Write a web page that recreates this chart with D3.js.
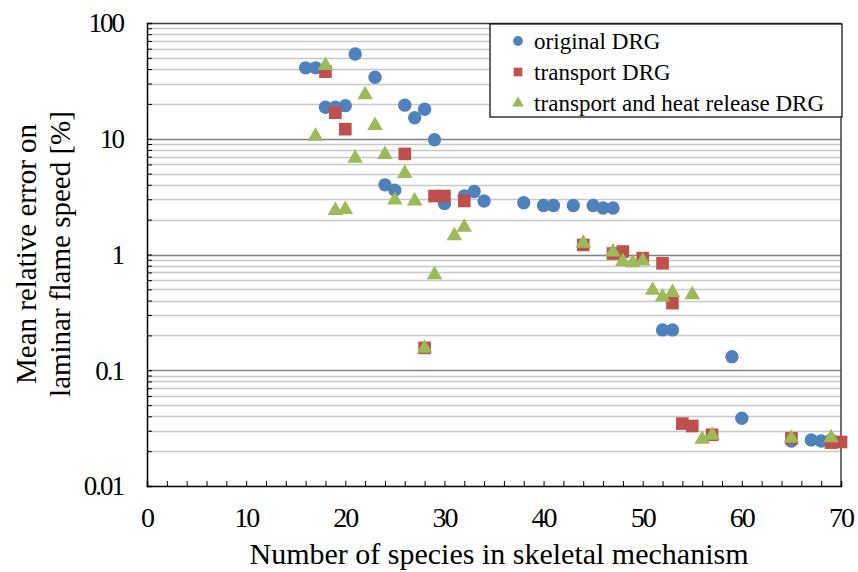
<!DOCTYPE html>
<html>
<head>
<meta charset="utf-8">
<script src="https://cdn.jsdelivr.net/npm/d3@7"></script>
<style>
  body { margin: 0; background: #fff; }
</style>
</head>
<body>
<div id="chart"></div>
<script>
// original DRG
var origX = [16, 17, 18, 19, 20, 21, 23, 24, 25, 26, 27, 28, 29, 30, 32, 33, 34, 38, 40, 41, 43, 45, 46, 47, 52, 53, 59, 60, 65, 67, 68, 69];
var origY = [41, 41, 18.7, 18.7, 19.3, 54, 34, 4.0, 3.6, 19.5, 15.2, 18, 9.8, 2.75, 3.2, 3.5, 2.9, 2.8, 2.65, 2.65, 2.65, 2.65, 2.52, 2.52, 0.223, 0.223, 0.131, 0.0385, 0.0245, 0.025, 0.0245, 0.025];

// transport DRG
var transX = [18, 19, 20, 26, 28, 29, 30, 32, 44, 47, 48, 50, 52, 53, 54, 55, 57, 65, 69, 70];
var transY = [38, 16.8, 12.1, 7.4, 0.156, 3.2, 3.2, 2.9, 1.21, 1.02, 1.06, 0.93, 0.84, 0.38, 0.0346, 0.033, 0.0277, 0.0258, 0.0237, 0.024];

// transport and heat release DRG
var heatX = [17, 18, 19, 20, 21, 22, 23, 24, 25, 26, 27, 28, 29, 31, 32, 44, 47, 48, 49, 50, 51, 52, 53, 55, 56, 57, 65, 69];
var heatY = [10.5, 43, 2.4, 2.45, 6.8, 24, 13, 7.3, 2.95, 5.0, 2.9, 0.155, 0.67, 1.45, 1.72, 1.25, 1.05, 0.87, 0.85, 0.88, 0.49, 0.43, 0.47, 0.45, 0.0253, 0.0275, 0.0258, 0.0261];

var xTicks = [0, 10, 20, 30, 40, 50, 60, 70];
var yTicks = [0.01, 0.1, 1, 10, 100];
var seriesNames = ["original DRG", "transport DRG", "transport and heat release DRG"];

var serifFont = "'Liberation Serif', 'DejaVu Serif', 'Times New Roman', serif";

function drawChart() {
    var width = 858, height = 572;
    var pLeft = 147, pRight = 841, pTop = 23, pBottom = 486;

    var svg = d3.select("#chart").append("svg")
        .attr("width", width)
        .attr("height", height)
        .attr("font-family", serifFont);

    var x = d3.scaleLinear().domain([0, 70]).range([pLeft, pRight]);
    var y = d3.scaleLog().domain([0.01, 100]).range([pBottom, pTop]);

    // horizontal gridlines, minor ones light
    var minor = [];
    yTicks.slice(0, 4).forEach(function(d) {
        for (var k = 2; k <= 9; k++) minor.push(d * k);
    });

    svg.append("g").selectAll("line")
        .data(minor)
        .enter().append("line")
        .attr("x1", pLeft).attr("x2", pRight)
        .attr("y1", function(d) { return Math.round(y(d)) + 0.5; })
        .attr("y2", function(d) { return Math.round(y(d)) + 0.5; })
        .attr("stroke", "#c8c8c8")
        .attr("stroke-width", 1.5);

    svg.append("g").selectAll("line")
        .data(yTicks.slice(1))
        .enter().append("line")
        .attr("x1", pLeft).attr("x2", pRight)
        .attr("y1", function(d) { return Math.round(y(d)) + 0.5; })
        .attr("y2", function(d) { return Math.round(y(d)) + 0.5; })
        .attr("stroke", function(d) { return d === 100 ? "#404040" : "#808080"; })
        .attr("stroke-width", 1.5);

    // right border
    svg.append("line")
        .attr("x1", pRight).attr("x2", pRight)
        .attr("y1", pTop).attr("y2", pBottom)
        .attr("stroke", "#404040")
        .attr("stroke-width", 1.5);

    // y axis, ticks pointing inward
    var yAxis = d3.axisRight(y)
        .tickValues(yTicks.concat(minor))
        .tickSize(5)
        .tickFormat("");
    svg.append("g")
        .attr("transform", "translate(" + pLeft + ",0)")
        .call(yAxis)
        .call(function(g) {
            g.select(".domain").attr("stroke-width", 1.5);
        });

    svg.append("g").selectAll("text")
        .data(yTicks)
        .enter().append("text")
        .attr("x", 123)
        .attr("y", function(d) { return y(d); })
        .attr("dy", "0.35em")
        .attr("text-anchor", "end")
        .style("font-family", serifFont)
        .style("font-size", "27px")
        .style("letter-spacing", "-2px")
        .text(function(d) { return d3.format("~g")(d); });

    // x axis, ticks pointing up
    var xAxis = d3.axisTop(x)
        .tickValues(d3.range(0, 71, 2))
        .tickSize(5)
        .tickFormat("");
    svg.append("g")
        .attr("transform", "translate(0," + pBottom + ")")
        .call(xAxis)
        .call(function(g) {
            g.select(".domain").attr("stroke-width", 1.5);
        });

    svg.append("g").selectAll("text")
        .data(xTicks)
        .enter().append("text")
        .attr("x", function(d) { return x(d); })
        .attr("y", 527)
        .attr("text-anchor", "middle")
        .style("font-family", serifFont)
        .style("font-size", "28px")
        .style("letter-spacing", "-2px")
        .text(function(d) { return d; });

    // axis titles
    svg.append("text")
        .attr("x", 499)
        .attr("y", 564)
        .attr("text-anchor", "middle")
        .style("font-family", serifFont)
        .style("font-size", "30px")
        .text("Number of species in skeletal mechanism");

    var yTitle = svg.append("text")
        .attr("transform", "translate(36,254) rotate(-90)")
        .attr("text-anchor", "middle")
        .style("font-family", serifFont)
        .style("font-size", "29px");
    yTitle.append("tspan").attr("x", 0).attr("dy", 0).text("Mean relative error on");
    yTitle.append("tspan").attr("x", 0).attr("dy", 34).text("laminar flame speed [%]");

    // points
    var colors = ["#4f81bd", "#c0504d", "#9bbb59"];
    var symbols = [d3.symbolCircle, d3.symbolSquare, d3.symbolTriangle];
    var sizes = [140, 160, 105];
    var series = [
        d3.zip(origX, origY),
        d3.zip(transX, transY),
        d3.zip(heatX, heatY)
    ];

    series.forEach(function(pts, i) {
        svg.append("g").selectAll("path")
            .data(pts)
            .enter().append("path")
            .attr("d", d3.symbol().type(symbols[i]).size(sizes[i]))
            .attr("transform", function(d) {
                return "translate(" + x(d[0]) + "," + y(d[1]) + ")";
            })
            .attr("fill", colors[i]);
    });

    // legend
    var legend = svg.append("g");
    legend.append("rect")
        .attr("x", 490).attr("y", 24)
        .attr("width", 352).attr("height", 93)
        .attr("fill", "#fff")
        .attr("stroke", "#000")
        .attr("stroke-width", 1.2);

    var legendItem = legend.selectAll("g")
        .data(seriesNames)
        .enter().append("g")
        .attr("transform", function(d, i) { return "translate(518," + (41 + i * 31) + ")"; });

    legendItem.append("path")
        .attr("d", function(d, i) { return d3.symbol().type(symbols[i]).size([75, 75, 60][i])(); })
        .attr("fill", function(d, i) { return colors[i]; });

    legendItem.append("text")
        .attr("x", 16)
        .attr("dy", "0.35em")
        .style("font-family", serifFont)
        .style("font-size", "23px")
        .style("letter-spacing", "0.05px")
        .text(function(d) { return d; });
}

drawChart();
</script>
</body>
</html>
